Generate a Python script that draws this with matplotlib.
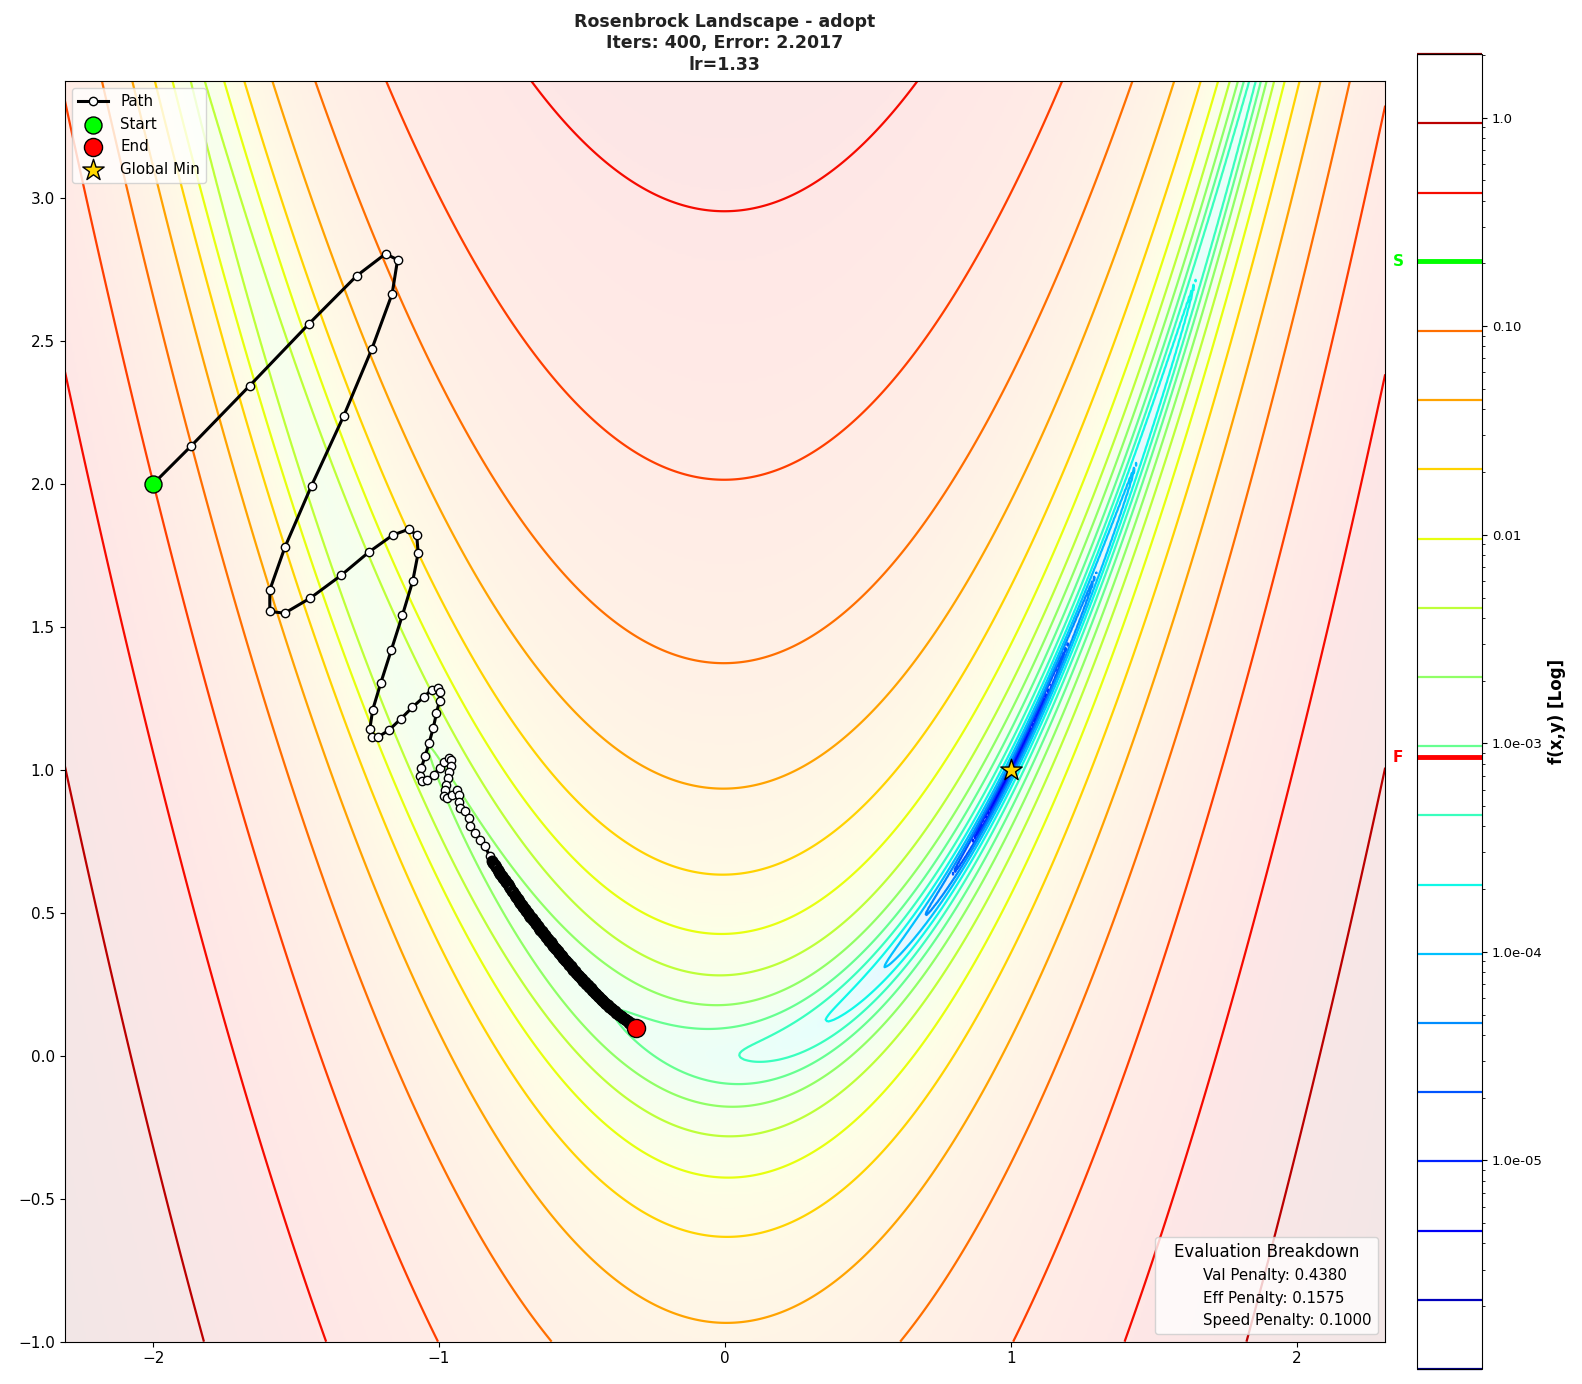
import numpy as np
import matplotlib
matplotlib.use("Agg")
import matplotlib.pyplot as plt
from matplotlib.colors import LogNorm
from matplotlib.ticker import FuncFormatter, LogLocator
from matplotlib.lines import Line2D
import matplotlib.transforms as mtransforms

# Landscape settings
x_range = (-2.31, 2.31)
y_range = (-1.0, 3.41)
z_scale = 2000.0      # f(x,y) is shown divided by this
n_levels = 20
log_floor = -6
cbar_ticks = [1e-5, 1e-4, 1e-3, 1e-2, 1e-1, 1.0]

# Optimizer path (head: individual steps)
head_x = [-2.0, -1.866, -1.662, -1.456, -1.288, -1.187, -1.145, -1.164, -1.235, -1.333,
          -1.446, -1.539, -1.592, -1.592, -1.540, -1.450, -1.343, -1.245, -1.162, -1.105,
          -1.078, -1.073, -1.092, -1.128, -1.167, -1.204, -1.232, -1.242, -1.234, -1.213,
          -1.175, -1.134, -1.093, -1.054, -1.026, -1.003, -0.998, -0.998, -1.009, -1.020,
          -1.035, -1.049, -1.062, -1.068, -1.059, -1.042, -1.019, -0.998, -0.984, -0.966,
          -0.958, -0.958, -0.964, -0.970, -0.975, -0.980, -0.984, -0.972, -0.954, -0.937,
          -0.931, -0.931, -0.925, -0.908, -0.896, -0.890, -0.873, -0.855, -0.838, -0.823]
head_y = [2.0, 2.134, 2.344, 2.559, 2.728, 2.805, 2.784, 2.665, 2.472, 2.239,
          1.994, 1.779, 1.629, 1.554, 1.548, 1.601, 1.680, 1.762, 1.821, 1.842,
          1.821, 1.758, 1.660, 1.541, 1.419, 1.303, 1.210, 1.143, 1.115, 1.115,
          1.139, 1.178, 1.219, 1.254, 1.280, 1.286, 1.273, 1.242, 1.198, 1.147,
          1.093, 1.047, 1.006, 0.977, 0.962, 0.965, 0.983, 1.006, 1.027, 1.043,
          1.035, 1.014, 0.994, 0.971, 0.948, 0.930, 0.907, 0.901, 0.913, 0.930,
          0.913, 0.889, 0.866, 0.855, 0.831, 0.802, 0.779, 0.755, 0.732, 0.697]

# Dense tail crawling down the valley
tail_x = [-0.815, -0.810, -0.805, -0.800, -0.795, -0.790, -0.785, -0.780, -0.775, -0.770,
          -0.765, -0.760, -0.755, -0.750, -0.745, -0.740, -0.735, -0.730, -0.725, -0.720,
          -0.715, -0.710, -0.705, -0.700, -0.695, -0.690, -0.685, -0.680, -0.675, -0.670,
          -0.665, -0.660, -0.655, -0.650, -0.645, -0.640, -0.635, -0.630, -0.625, -0.620,
          -0.615, -0.610, -0.605, -0.600, -0.595, -0.590, -0.585, -0.580, -0.575, -0.570,
          -0.565, -0.560, -0.555, -0.550, -0.545, -0.540, -0.535, -0.530, -0.525, -0.520,
          -0.515, -0.510, -0.505, -0.500, -0.495, -0.490, -0.485, -0.480, -0.475, -0.470,
          -0.465, -0.460, -0.455, -0.450, -0.445, -0.440, -0.435, -0.430, -0.425, -0.420,
          -0.415, -0.410, -0.405, -0.400, -0.395, -0.390, -0.385, -0.380, -0.375, -0.370,
          -0.365, -0.360, -0.355, -0.350, -0.345, -0.340, -0.335, -0.330, -0.325, -0.320,
          -0.315, -0.310]
tail_y = [0.682, 0.674, 0.667, 0.659, 0.651, 0.644, 0.636, 0.628, 0.622, 0.614,
          0.606, 0.600, 0.592, 0.585, 0.577, 0.571, 0.563, 0.556, 0.549, 0.542,
          0.535, 0.528, 0.521, 0.515, 0.508, 0.501, 0.494, 0.487, 0.481, 0.474,
          0.467, 0.461, 0.454, 0.448, 0.441, 0.435, 0.428, 0.422, 0.416, 0.409,
          0.403, 0.397, 0.391, 0.385, 0.378, 0.372, 0.366, 0.359, 0.354, 0.348,
          0.341, 0.336, 0.330, 0.324, 0.318, 0.313, 0.306, 0.301, 0.296, 0.289,
          0.284, 0.278, 0.273, 0.268, 0.262, 0.257, 0.251, 0.246, 0.241, 0.236,
          0.230, 0.226, 0.220, 0.216, 0.210, 0.206, 0.200, 0.196, 0.191, 0.186,
          0.181, 0.177, 0.172, 0.168, 0.164, 0.159, 0.155, 0.151, 0.147, 0.143,
          0.139, 0.135, 0.131, 0.128, 0.124, 0.120, 0.116, 0.113, 0.109, 0.105,
          0.102, 0.098]

global_min = (1.0, 1.0)
title_text = "Rosenbrock Landscape - adopt\nIters: 400, Error: 2.2017\nlr=1.33"
eval_title = "Evaluation Breakdown"
eval_lines = ["Val Penalty: 0.4380", "Eff Penalty: 0.1575", "Speed Penalty: 0.1000"]


def rosenbrock(x, y):
    return (1 - x) ** 2 + 100 * (y - x ** 2) ** 2


def cbar_fmt(v, pos):
    if v >= 1:
        return f"{v:.1f}"
    if v >= 0.01:
        return f"{v:.2f}"
    return f"{v:.1e}"


path_x = np.array(head_x + tail_x)
path_y = np.array(head_y + tail_y)

xs = np.linspace(x_range[0], x_range[1], 600)
ys = np.linspace(y_range[0], y_range[1], 600)
X, Y = np.meshgrid(xs, ys)
Z = rosenbrock(X, Y) / z_scale
zmax = Z.max()
levels = np.logspace(log_floor, np.log10(zmax), n_levels)
norm = LogNorm(vmin=levels[0], vmax=levels[-1])

fig = plt.figure(figsize=(15.82, 13.84), dpi=100)
ax = fig.add_axes([0.0408, 0.0306, 0.8348, 0.911])
cax = fig.add_axes([0.896, 0.0108, 0.0408, 0.950])

# faint smooth background + contour lines
bg_cmap = plt.get_cmap("jet").copy()
bg_cmap.set_under("white")
ax.imshow(Z, extent=(*x_range, *y_range), origin="lower", cmap=bg_cmap,
          norm=norm, alpha=0.1, aspect="auto", interpolation="bilinear")
cs = ax.contour(X, Y, Z, levels=levels, cmap="jet", norm=norm, linewidths=1.6)

# path: connecting line, single steps, then the crowded tail
ax.plot(path_x, path_y, "-", color="black", lw=2.2, zorder=5)
ax.plot(head_x, head_y, "o", markersize=6, markerfacecolor="white",
        markeredgecolor="black", markeredgewidth=1.0, zorder=5)
ax.plot(tail_x, tail_y, "o", markersize=6, markerfacecolor="white",
        markeredgecolor="black", markeredgewidth=2.6, zorder=5)
ax.scatter(path_x[0], path_y[0], s=150, color="lime", edgecolor="black",
           linewidth=1.0, zorder=6, label="Start")
ax.scatter(path_x[-1], path_y[-1], s=170, color="red", edgecolor="black",
           linewidth=1.0, zorder=6, label="End")
ax.scatter(global_min[0], global_min[1], s=260, marker="*", color="gold",
           edgecolor="black", linewidth=1.0, zorder=6, label="Global Min")

ax.set_xlim(*x_range)
ax.set_ylim(*y_range)
ax.tick_params(labelsize=11)
ax.set_title(title_text, fontsize=12.5, fontweight="bold", color="#222222",
             linespacing=1.25, pad=8)

path_handle = Line2D([], [], color="black", lw=2.2, marker="o", markersize=6,
                     markerfacecolor="white", markeredgecolor="black")
handles, labels = ax.get_legend_handles_labels()
leg1 = ax.legend([path_handle] + handles, ["Path"] + labels,
                 loc="upper left", fontsize=10.8)
ax.add_artist(leg1)
blank = [Line2D([], [], linestyle="none") for _ in eval_lines]
ax.legend(blank, eval_lines, loc="lower right", title=eval_title,
          fontsize=10.8, title_fontsize=12)

# colorbar with contour lines
cbar = fig.colorbar(cs, cax=cax)
cbar.set_ticks(cbar_ticks)
cbar.ax.yaxis.set_major_formatter(FuncFormatter(cbar_fmt))
cbar.ax.yaxis.set_minor_locator(LogLocator(base=10, subs=np.arange(2, 10)))
cbar.ax.tick_params(labelsize=9.5)
cbar.set_label("f(x,y) [Log]", fontsize=12, fontweight="bold")

z_start = rosenbrock(path_x[0], path_y[0]) / z_scale
z_end = rosenbrock(path_x[-1], path_y[-1]) / z_scale
trans = mtransforms.blended_transform_factory(cax.transAxes, cax.transData)
cax.axhline(z_start, color="lime", lw=3.5)
cax.axhline(z_end, color="red", lw=3.5)
cax.text(-0.3, z_start, "S", transform=trans, color="lime", fontweight="bold",
         fontsize=11, ha="center", va="center")
cax.text(-0.3, z_end, "F", transform=trans, color="red", fontweight="bold",
         fontsize=11, ha="center", va="center")

fig.savefig("out.png", dpi=100)
